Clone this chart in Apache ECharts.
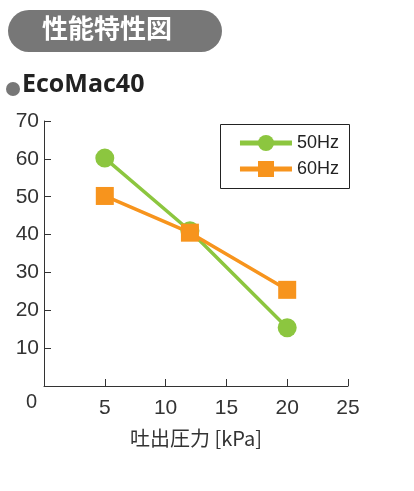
<!DOCTYPE html>
<html>
<head>
<meta charset="utf-8">
<script src="https://cdn.jsdelivr.net/npm/echarts@6/dist/echarts.min.js"></script>
<style>
  body { margin: 0; background: #fff; }
  #main { width: 414px; height: 491px; }
</style>
</head>
<body>
<div id="main"></div>
<script>
// 吐出圧力 [kPa]
var pressure = [5, 12, 20]
var hz50 = [60.2, 41, 15.4]
var hz60 = [50.2, 40.5, 25.4]
var xTicks = [0, 5, 10, 15, 20, 25]
var yTicks = [0, 10, 20, 30, 40, 50, 60, 70]

var green = '#8cc63f'
var orange = '#f7941d'
var axisColor = '#333'

function pairs (xs, ys) {
  return xs.map(function (x, i) { return [x, ys[i]] })
}

var chart = echarts.init(document.getElementById('main'))
chart.setOption({
  animation: false,
  grid: { left: 44, top: 121, right: 66, bottom: 105 },
  graphic: [
    { type: 'rect', left: 8, top: 10, shape: { width: 214, height: 42, r: 21 }, style: { fill: '#777' } },
    { type: 'text', left: 42, top: 15, style: { text: '性能特性図', fill: '#fff', font: 'bold 26px "Noto Sans CJK JP"' } },
    { type: 'circle', left: 6, top: 82, shape: { r: 7 }, style: { fill: '#777' } },
    { type: 'text', left: 22, top: 72, style: { text: 'EcoMac40', fill: '#222', font: 'bold 25px "Open Sans"' } },
    { type: 'text', left: 26, top: 392, style: { text: '0', fill: '#333', font: '20px "Liberation Sans"' } },
    { type: 'rect', left: 218, top: 122, shape: { width: 129, height: 64 }, style: { fill: 'none', stroke: '#222', lineWidth: 1 } }
  ],
  legend: {
    right: 70, top: 129, orient: 'vertical', itemGap: 8,
    itemWidth: 52, itemHeight: 20,
    textStyle: { fontSize: 18, color: '#222', fontFamily: 'Liberation Sans' },
    data: [
      { name: '50Hz', itemStyle: { color: green }, lineStyle: { width: 5 } },
      { name: '60Hz', itemStyle: { color: orange }, lineStyle: { width: 5 } }
    ]
  },
  xAxis: {
    type: 'value', min: 0, max: 25, interval: 5,
    name: '吐出圧力 [kPa]', nameLocation: 'middle', nameGap: 42,
    nameTextStyle: { fontSize: 20, color: '#333', fontFamily: 'Noto Sans CJK JP' },
    axisLine: { lineStyle: { color: axisColor } },
    axisTick: { inside: true, length: 7, lineStyle: { color: axisColor } },
    axisLabel: { fontSize: 21, color: '#333', margin: 12, fontFamily: 'Liberation Sans',
      formatter: function (v) { return xTicks.indexOf(v) > 0 ? v : '' } },
    splitLine: { show: false }
  },
  yAxis: {
    type: 'value', min: 0, max: 70, interval: 10,
    axisLine: { show: true, lineStyle: { color: axisColor } },
    axisTick: { inside: true, length: 7, lineStyle: { color: axisColor } },
    axisLabel: { fontSize: 21, color: '#333', margin: 5, fontFamily: 'Liberation Sans',
      formatter: function (v) { return yTicks.indexOf(v) > 0 ? v : '' } },
    splitLine: { show: false }
  },
  series: [
    { name: '50Hz', type: 'line', data: pairs(pressure, hz50), symbol: 'circle', symbolSize: 19,
      lineStyle: { color: green, width: 3.5 }, itemStyle: { color: green } },
    { name: '60Hz', type: 'line', data: pairs(pressure, hz60), symbol: 'rect', symbolSize: 18,
      lineStyle: { color: orange, width: 3.5 }, itemStyle: { color: orange } }
  ]
})
</script>
</body>
</html>
